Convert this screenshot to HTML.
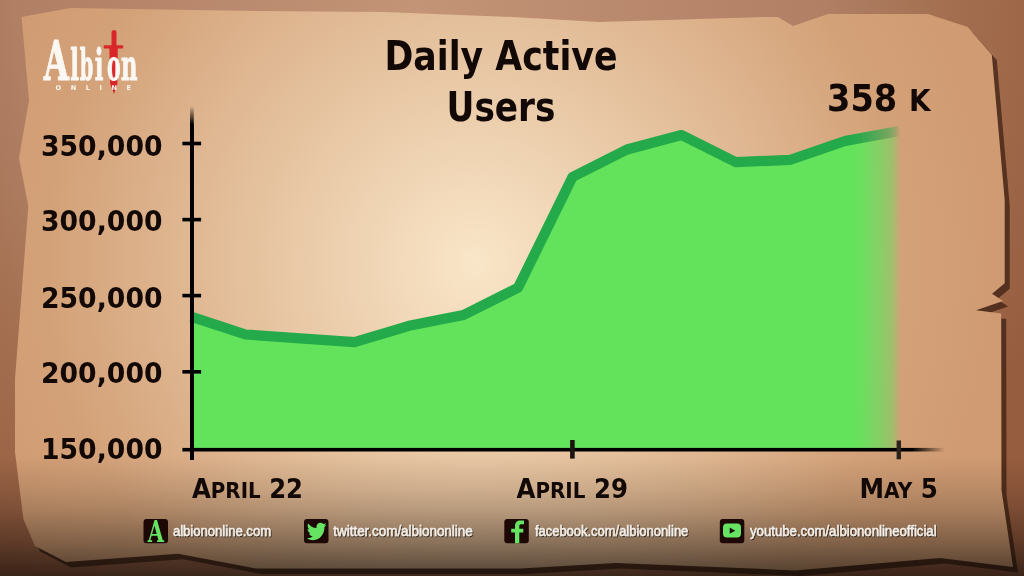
<!DOCTYPE html>
<html><head><meta charset="utf-8">
<style>
html,body{margin:0;padding:0;width:1024px;height:576px;overflow:hidden;background:#a36f50;}
svg{position:absolute;left:0;top:0;display:block}
.lab{font-family:"DejaVu Sans","Liberation Sans",sans-serif;font-weight:bold;fill:#120806}
.soc{font-family:"Liberation Sans",sans-serif;font-weight:normal;fill:#f4efe8;stroke:#f4efe8;stroke-width:0.45px}
</style></head><body>
<svg width="1024" height="576" viewBox="0 0 1024 576">
<defs>
 <radialGradient id="bg" gradientUnits="userSpaceOnUse" cx="420" cy="0" r="700" gradientTransform="translate(420 0) scale(1 1) translate(-420 0)">
  <stop offset="0" stop-color="#c49477"/>
  <stop offset="0.58" stop-color="#b07f64"/>
  <stop offset="0.75" stop-color="#a36f50"/>
  <stop offset="1" stop-color="#975d3f"/>
 </radialGradient>
 <radialGradient id="pg" gradientUnits="userSpaceOnUse" cx="475" cy="263" r="520">
  <stop offset="0" stop-color="#f9e6c8"/>
  <stop offset="0.827" stop-color="#d3a178"/>
  <stop offset="1" stop-color="#d09b72"/>
 </radialGradient>
 <linearGradient id="vig" gradientUnits="userSpaceOnUse" x1="0" y1="0" x2="0" y2="576">
  <stop offset="0" stop-color="#000" stop-opacity="0"/>
  <stop offset="0.7917" stop-color="#000" stop-opacity="0"/>
  <stop offset="0.8160" stop-color="#000" stop-opacity="0.045"/>
  <stop offset="0.8507" stop-color="#000" stop-opacity="0.105"/>
  <stop offset="0.8854" stop-color="#000" stop-opacity="0.19"/>
  <stop offset="0.9115" stop-color="#000" stop-opacity="0.28"/>
  <stop offset="0.9462" stop-color="#000" stop-opacity="0.40"/>
  <stop offset="0.9635" stop-color="#000" stop-opacity="0.47"/>
  <stop offset="1" stop-color="#000" stop-opacity="0.62"/>
 </linearGradient>
 <linearGradient id="fade" gradientUnits="userSpaceOnUse" x1="851" y1="0" x2="901" y2="0">
  <stop offset="0" stop-color="#fff" stop-opacity="1"/>
  <stop offset="0.217" stop-color="#fff" stop-opacity="0.93"/>
  <stop offset="0.435" stop-color="#fff" stop-opacity="0.78"/>
  <stop offset="0.609" stop-color="#fff" stop-opacity="0.65"/>
  <stop offset="0.783" stop-color="#fff" stop-opacity="0.5"/>
  <stop offset="0.891" stop-color="#fff" stop-opacity="0.3"/>
  <stop offset="0.957" stop-color="#fff" stop-opacity="0.1"/>
  <stop offset="1" stop-color="#fff" stop-opacity="0"/>
 </linearGradient>
 <mask id="fm" maskUnits="userSpaceOnUse" x="0" y="0" width="1024" height="576">
  <rect x="0" y="0" width="851" height="576" fill="#fff"/>
  <rect x="851" y="0" width="60" height="576" fill="url(#fade)"/>
 </mask>
 <linearGradient id="axf" gradientUnits="userSpaceOnUse" x1="912" y1="0" x2="945" y2="0">
  <stop offset="0" stop-color="#000" stop-opacity="1"/>
  <stop offset="1" stop-color="#000" stop-opacity="0"/>
 </linearGradient>
 <linearGradient id="ayf" gradientUnits="userSpaceOnUse" x1="0" y1="106" x2="0" y2="124">
  <stop offset="0" stop-color="#000" stop-opacity="0"/>
  <stop offset="1" stop-color="#000" stop-opacity="1"/>
 </linearGradient>
 <filter id="ts" x="-5%" y="-20%" width="110%" height="140%">
  <feDropShadow dx="0.8" dy="1" stdDeviation="0.4" flood-color="#2a1a10" flood-opacity="0.9"/>
 </filter>
</defs>
<rect x="0" y="0" width="1024" height="576" fill="url(#bg)"/>
<polygon points="26.5,22.5 75.0,13.5 261.0,16.5 389.0,17.5 517.0,22.5 605.0,27.5 773.0,22.5 783.0,22.5 798.0,31.5 833.0,19.5 933.0,19.5 972.7,32.5 996.8,60.2 1009.7,205.5 1009.7,288.7 997.1,299.2 1008.0,306.5 981.0,315.7 1006.2,319.0 1006.5,495.5 1018.0,572.5 945.0,563.4 800.0,575.9 621.0,568.5 525.0,574.0 261.0,574.0 183.0,559.3 71.0,567.5 40.0,551.5 28.4,524.5 23.5,485.5 20.0,457.5 20.0,384.5 33.3,211.5 24.0,163.5 34.0,105.5" fill="#1e0a02" fill-opacity="0.56"/>
<polygon points="21.5,17.0 70.0,8.0 256.0,11.0 384.0,12.0 512.0,17.0 600.0,22.0 768.0,17.0 778.0,17.0 793.0,26.0 828.0,14.0 928.0,14.0 967.7,27.0 991.8,54.7 1004.7,200.0 1004.7,283.2 992.1,293.7 1003.0,301.0 976.0,310.2 1001.2,313.5 1001.5,490.0 1013.0,567.0 940.0,557.9 795.0,570.4 616.0,563.0 520.0,568.5 256.0,568.5 178.0,553.8 66.0,562.0 35.0,546.0 23.4,519.0 18.5,480.0 15.0,452.0 15.0,379.0 28.3,206.0 19.0,158.0 29.0,100.0" fill="url(#pg)"/>
<rect x="0" y="0" width="1024" height="576" fill="url(#vig)"/>

<!-- chart -->
<g mask="url(#fm)">
 <polygon points="191.0,449.7 191.0,316.6 245.5,334.5 300.0,338.3 354.5,342.2 409.0,325.8 463.5,315.0 518.0,287.8 572.5,177.0 627.0,149.5 681.5,135.0 736.0,162.2 790.5,159.8 845.0,141.0 899.5,131.0 899.5,449.7" fill="#63e35c"/>
 <polyline points="191.0,316.6 245.5,334.5 300.0,338.3 354.5,342.2 409.0,325.8 463.5,315.0 518.0,287.8 572.5,177.0 627.0,149.5 681.5,135.0 736.0,162.2 790.5,159.8 845.0,141.0 899.5,131.0" fill="none" stroke="#24aa4a" stroke-width="10.2" stroke-linejoin="round"/>
</g>
<rect x="190" y="106" width="3.8" height="354" fill="url(#ayf)"/>
<rect x="190" y="124" width="3.8" height="336" fill="#000"/>
<rect x="190" y="447.9" width="722" height="3.6" fill="#000"/>
<rect x="912" y="447.9" width="33" height="3.6" fill="url(#axf)"/>
<rect x="182.4" y="141.7" width="18.7" height="3.6" fill="#000"/>
<rect x="182.4" y="217.8" width="18.7" height="3.6" fill="#000"/>
<rect x="182.4" y="293.8" width="18.7" height="3.6" fill="#000"/>
<rect x="182.4" y="370.0" width="18.7" height="3.6" fill="#000"/>
<rect x="182.4" y="447.9" width="10" height="3.6" fill="#000"/>
<rect x="570.1" y="440" width="4.6" height="18.6" fill="#1c1410"/>
<rect x="896.6" y="440.5" width="4.4" height="18.8" fill="#2b221b"/>
<text class="lab" x="41" y="155.6" font-size="28.5" textLength="121.5" lengthAdjust="spacingAndGlyphs">350,000</text>
<text class="lab" x="41" y="231.0" font-size="28.5" textLength="121.5" lengthAdjust="spacingAndGlyphs">300,000</text>
<text class="lab" x="41" y="308.2" font-size="28.5" textLength="121.5" lengthAdjust="spacingAndGlyphs">250,000</text>
<text class="lab" x="41" y="383.4" font-size="28.5" textLength="121.5" lengthAdjust="spacingAndGlyphs">200,000</text>
<text class="lab" x="41" y="459.2" font-size="28.5" textLength="121.5" lengthAdjust="spacingAndGlyphs">150,000</text>
<text class="lab" x="384.5" y="70" font-size="41" textLength="233" lengthAdjust="spacingAndGlyphs" style="font-weight:bold">Daily Active</text>
<text class="lab" x="446.5" y="120.6" font-size="41" textLength="109" lengthAdjust="spacingAndGlyphs">Users</text>
<text class="lab" x="827" y="110.7" font-size="37.5" textLength="103.5" lengthAdjust="spacingAndGlyphs">358 <tspan font-size="31">K</tspan></text>
<text class="lab" x="192" y="498" font-size="27" textLength="111" lengthAdjust="spacingAndGlyphs">A<tspan font-size="22">PRIL</tspan> 22</text>
<text class="lab" x="516.5" y="498.2" font-size="27" textLength="111.5" lengthAdjust="spacingAndGlyphs">A<tspan font-size="22">PRIL</tspan> 29</text>
<text class="lab" x="859.5" y="497.8" font-size="27" textLength="78.5" lengthAdjust="spacingAndGlyphs">M<tspan font-size="22">AY</tspan> 5</text>
<rect x="143.5" y="519" width="24.5" height="24.2" rx="3" fill="#1d0806"/>
<rect x="304" y="519" width="24.5" height="24.2" rx="3" fill="#1d0806"/>
<rect x="504.3" y="519" width="24.5" height="24.2" rx="3" fill="#1d0806"/>
<rect x="719.8" y="519" width="24.5" height="24.2" rx="3" fill="#1d0806"/>
<text transform="translate(155.8 541.5) scale(0.72 1)" font-family="DejaVu Serif,serif" font-weight="bold" font-size="29" fill="#66e362" text-anchor="middle">A</text>
<path transform="translate(306.8,520.6) scale(0.82,0.9)" fill="#66e362" d="M24 4.6c-.9.4-1.8.6-2.8.8 1-.6 1.8-1.6 2.2-2.7-1 .6-2 1-3.1 1.2C19.3 2.9 18 2.3 16.6 2.3c-2.7 0-4.9 2.2-4.9 4.9 0 .4 0 .8.1 1.1C7.7 8.1 4.1 6.1 1.7 3.1c-.4.7-.7 1.6-.7 2.5 0 1.7.9 3.2 2.2 4.1-.8 0-1.6-.2-2.2-.6v.1c0 2.4 1.7 4.4 3.9 4.8-.4.1-.8.2-1.3.2-.3 0-.6 0-.9-.1.6 2 2.4 3.4 4.6 3.4-1.7 1.3-3.8 2.1-6.1 2.1-.4 0-.8 0-1.2-.1 2.2 1.4 4.8 2.2 7.5 2.2 9.1 0 14-7.5 14-14v-.6c1-.7 1.8-1.6 2.5-2.5z"/>
<path fill="#66e362" d="M515 543.2 V532.6 H511.2 V528.7 H515 V526 C515 522.5 517 520.5 520.5 520.5 H524 V524.3 H521.2 C519.9 524.3 519.3 525 519.3 526.2 V528.7 H523.3 V532.6 H519.3 V543.2 Z"/>
<rect x="723" y="523.5" width="18" height="14" rx="4" fill="#66e362"/><path d="M729.7 527.6 L735.3 530.7 L729.7 533.8 Z" fill="#1f0e08"/>
<text class="soc" x="172.89999999999998" y="535.9" font-size="13.8" textLength="98.2" lengthAdjust="spacingAndGlyphs" filter="url(#ts)">albiononline.com</text>
<text class="soc" x="333.3" y="535.9" font-size="13.8" textLength="139.4" lengthAdjust="spacingAndGlyphs" filter="url(#ts)">twitter.com/albiononline</text>
<text class="soc" x="534.9000000000001" y="535.9" font-size="13.8" textLength="153.4" lengthAdjust="spacingAndGlyphs" filter="url(#ts)">facebook.com/albiononline</text>
<text class="soc" x="750.0" y="535.9" font-size="13.8" textLength="186.6" lengthAdjust="spacingAndGlyphs" filter="url(#ts)">youtube.com/albiononlineofficial</text>
<g fill="#d8262a">
 <rect x="111.5" y="30" width="5" height="17" rx="2.5"/>
 <rect x="103.7" y="45.2" width="19.5" height="3.2" rx="1"/>
 <path d="M109.3 48 H117.8 L117.4 84 L114 94 L110.2 84 Z"/>
</g>
<g font-family="DejaVu Serif" font-stretch="condensed" font-weight="bold" fill="#fbf7f2" stroke="#fbf7f2" stroke-width="0.9" stroke-linejoin="round">
<text transform="translate(43.75 79.5) scale(0.665 1)" font-size="54">A</text>
<text transform="translate(70.20 79.5) scale(0.613 1)" font-size="42">l</text>
<text transform="translate(79.80 79.5) scale(0.511 1)" font-size="42">b</text>
<text transform="translate(94.80 79.5) scale(0.606 1)" font-size="42">i</text>
<text transform="translate(107.00 79.5) scale(0.540 1)" font-size="42">o</text>
<text transform="translate(121.00 79.5) scale(0.601 1)" font-size="42">n</text>
</g>
<text x="55.5" y="90" font-family="DejaVu Sans,sans-serif" font-weight="bold" font-size="6.5" fill="#fbf7f2" textLength="75.5" lengthAdjust="spacing">ONLINE</text>
</svg>
</body></html>
